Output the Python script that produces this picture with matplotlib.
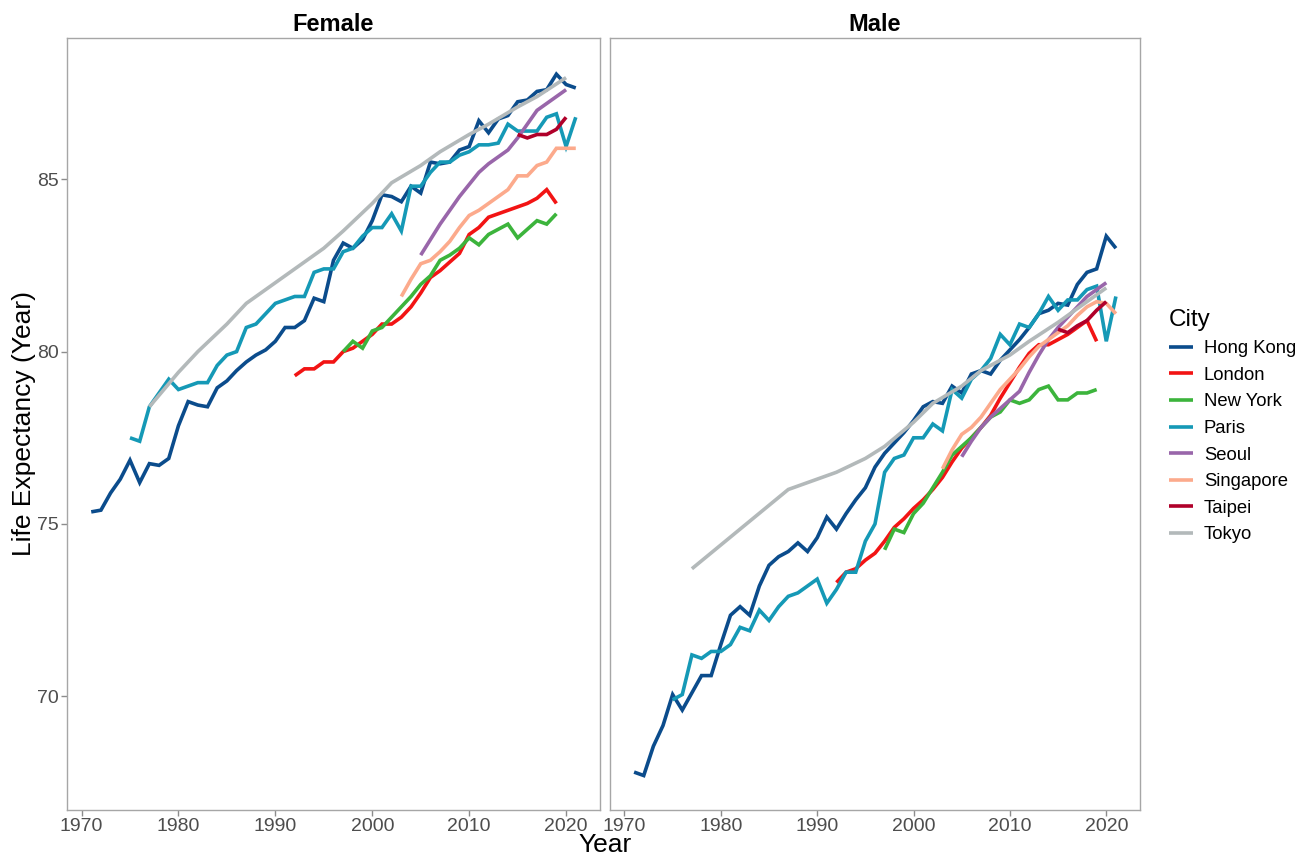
import matplotlib
matplotlib.use("Agg")
import matplotlib.pyplot as plt

plt.rcParams['font.family'] = ['Liberation Sans', 'DejaVu Sans']

# Life expectancy by city, female
hong_kong_female_years = list(range(1971, 2022))
hong_kong_female = [75.35, 75.4, 75.9, 76.3, 76.85, 76.2, 76.75, 76.7, 76.9, 77.85,
                    78.55, 78.45, 78.4, 78.95, 79.15, 79.45, 79.7, 79.9, 80.05, 80.3,
                    80.7, 80.7, 80.9, 81.55, 81.45, 82.65, 83.15, 83.0, 83.25, 83.8,
                    84.55, 84.5, 84.35, 84.8, 84.6, 85.5, 85.45, 85.5, 85.85, 85.95,
                    86.7, 86.35, 86.75, 86.85, 87.25, 87.3, 87.55, 87.6, 88.05, 87.75,
                    87.65]
london_female_years = list(range(1992, 2020))
london_female = [79.3, 79.5, 79.5, 79.7, 79.7, 80.0, 80.1, 80.3, 80.5, 80.8,
                 80.8, 81.0, 81.3, 81.7, 82.15, 82.35, 82.6, 82.85, 83.4, 83.6,
                 83.9, 84.0, 84.1, 84.2, 84.3, 84.45, 84.7, 84.3]
new_york_female_years = list(range(1997, 2020))
new_york_female = [80.0, 80.3, 80.1, 80.6, 80.7, 81.0, 81.3, 81.6, 81.95, 82.2,
                   82.65, 82.8, 83.0, 83.3, 83.1, 83.4, 83.55, 83.7, 83.3, 83.55,
                   83.8, 83.7, 84.0]
paris_female_years = list(range(1975, 2022))
paris_female = [77.5, 77.4, 78.4, 78.8, 79.2, 78.9, 79.0, 79.1, 79.1, 79.6,
                79.9, 80.0, 80.7, 80.8, 81.1, 81.4, 81.5, 81.6, 81.6, 82.3,
                82.4, 82.4, 82.9, 83.0, 83.35, 83.6, 83.6, 84.0, 83.5, 84.8,
                84.8, 85.2, 85.5, 85.5, 85.7, 85.8, 86.0, 86.0, 86.05, 86.6,
                86.4, 86.4, 86.4, 86.8, 86.9, 85.95, 86.8]
seoul_female_years = list(range(2005, 2021))
seoul_female = [82.8, 83.25, 83.7, 84.1, 84.5, 84.85, 85.2, 85.45, 85.65, 85.85,
                86.2, 86.6, 87.0, 87.2, 87.4, 87.6]
singapore_female_years = list(range(2003, 2022))
singapore_female = [81.6, 82.1, 82.55, 82.65, 82.9, 83.2, 83.6, 83.95, 84.1, 84.3,
                    84.5, 84.7, 85.1, 85.1, 85.4, 85.5, 85.9, 85.9, 85.9]
taipei_female_years = list(range(2015, 2021))
taipei_female = [86.3, 86.2, 86.3, 86.3, 86.45, 86.8]
tokyo_female_years = [1977, 1980, 1982, 1985, 1987, 1990, 1992, 1995, 1997, 2000,
                      2002, 2005, 2007, 2010, 2012, 2015, 2017, 2020]
tokyo_female = [78.4, 79.4, 80.0, 80.8, 81.4, 82.0, 82.4, 83.0, 83.5, 84.3,
                84.9, 85.4, 85.8, 86.3, 86.6, 87.1, 87.4, 87.95]

# Life expectancy by city, male
hong_kong_male_years = list(range(1971, 2022))
hong_kong_male = [67.8, 67.7, 68.55, 69.15, 70.05, 69.6, 70.1, 70.6, 70.6, 71.5,
                  72.35, 72.6, 72.35, 73.2, 73.8, 74.05, 74.2, 74.45, 74.2, 74.6,
                  75.2, 74.85, 75.3, 75.7, 76.05, 76.65, 77.05, 77.35, 77.65, 78.0,
                  78.4, 78.55, 78.5, 79.0, 78.8, 79.35, 79.45, 79.35, 79.75, 80.05,
                  80.35, 80.7, 81.1, 81.2, 81.4, 81.35, 81.95, 82.3, 82.4, 83.35,
                  83.0]
london_male_years = list(range(1992, 2020))
london_male = [73.3, 73.6, 73.7, 73.95, 74.15, 74.5, 74.9, 75.15, 75.45, 75.7,
               76.0, 76.35, 76.8, 77.2, 77.5, 77.8, 78.15, 78.65, 79.1, 79.55,
               79.95, 80.2, 80.2, 80.35, 80.5, 80.7, 80.9, 80.3]
new_york_male_years = list(range(1997, 2020))
new_york_male = [74.25, 74.85, 74.75, 75.3, 75.6, 76.05, 76.5, 77.0, 77.25, 77.5,
                 77.8, 78.1, 78.25, 78.6, 78.5, 78.6, 78.9, 79.0, 78.6, 78.6,
                 78.8, 78.8, 78.9]
paris_male_years = list(range(1975, 2022))
paris_male = [69.9, 70.05, 71.2, 71.1, 71.3, 71.3, 71.5, 72.0, 71.9, 72.5,
              72.2, 72.6, 72.9, 73.0, 73.2, 73.4, 72.7, 73.1, 73.6, 73.6,
              74.5, 75.0, 76.5, 76.9, 77.0, 77.5, 77.5, 77.9, 77.7, 78.9,
              78.65, 79.2, 79.45, 79.8, 80.5, 80.2, 80.8, 80.7, 81.1, 81.6,
              81.2, 81.5, 81.5, 81.8, 81.9, 80.3, 81.6]
seoul_male_years = list(range(2005, 2021))
seoul_male = [76.95, 77.4, 77.8, 78.1, 78.35, 78.6, 78.85, 79.4, 79.9, 80.35,
              80.7, 81.0, 81.3, 81.6, 81.8, 82.0]
singapore_male_years = list(range(2003, 2022))
singapore_male = [76.6, 77.15, 77.6, 77.8, 78.1, 78.5, 78.9, 79.2, 79.5, 79.85,
                  80.15, 80.35, 80.55, 80.75, 81.05, 81.3, 81.45, 81.4, 81.1]
taipei_male_years = list(range(2015, 2021))
taipei_male = [80.65, 80.55, 80.75, 80.9, 81.2, 81.45]
tokyo_male_years = [1977, 1987, 1990, 1992, 1995, 1997, 2000, 2002, 2005, 2007,
                    2010, 2012, 2015, 2017, 2020]
tokyo_male = [73.7, 76.0, 76.3, 76.5, 76.9, 77.25, 77.95, 78.5, 79.0, 79.45,
              79.9, 80.3, 80.85, 81.25, 81.85]

cities = ['Hong Kong', 'London', 'New York', 'Paris', 'Seoul', 'Singapore', 'Taipei', 'Tokyo']
city_colors = ['#0b4c8c', '#f21414', '#3cb43c', '#1599b6', '#9966aa', '#fcaa8c', '#b0002a', '#b3b9ba']

female = [(hong_kong_female_years, hong_kong_female), (london_female_years, london_female),
          (new_york_female_years, new_york_female), (paris_female_years, paris_female),
          (seoul_female_years, seoul_female), (singapore_female_years, singapore_female),
          (taipei_female_years, taipei_female), (tokyo_female_years, tokyo_female)]
male = [(hong_kong_male_years, hong_kong_male), (london_male_years, london_male),
        (new_york_male_years, new_york_male), (paris_male_years, paris_male),
        (seoul_male_years, seoul_male), (singapore_male_years, singapore_male),
        (taipei_male_years, taipei_male), (tokyo_male_years, tokyo_male)]

fig = plt.figure(figsize=(13.07, 8.57), dpi=100)

# Two facet panels side by side
ax_f = fig.add_axes([67 / 1307, 1 - 810 / 857, 533 / 1307, 772 / 857])
ax_m = fig.add_axes([610 / 1307, 1 - 810 / 857, 530 / 1307, 772 / 857])

for ax, data, title in [(ax_f, female, 'Female'), (ax_m, male, 'Male')]:
    for city, color, (years, values) in zip(cities, city_colors, data):
        ax.plot(years, values, color=color, linewidth=2.6, label=city,
                solid_joinstyle='miter', solid_capstyle='butt')
    ax.set_xlim(1968.5, 2023.5)
    ax.set_ylim(66.7, 89.1)
    ax.set_xticks([1970, 1980, 1990, 2000, 2010, 2020])
    ax.set_yticks([70, 75, 80, 85])
    ax.set_title(title, fontsize=17, fontweight='bold', pad=5)
    for spine in ax.spines.values():
        spine.set_color('#a6a6a6')
        spine.set_linewidth(1.0)
    ax.tick_params(colors='#8c8c8c', labelcolor='#4d4d4d', labelsize=14,
                   length=4, width=1.0, pad=2)

# Male panel shares the y axis, so no labels there
ax_m.tick_params(axis='y', left=False, labelleft=False)

# Axis titles
fig.text(605 / 1307, 1 - 845 / 857, 'Year', ha='center', va='center', fontsize=19)
fig.text(24 / 1307, 1 - 424 / 857, 'Life Expectancy (Year)', ha='center', va='center',
         rotation=90, fontsize=19)

# Legend on the right
handles, labels = ax_f.get_legend_handles_labels()
fig.legend(handles, labels, title='City', loc='upper left',
           bbox_to_anchor=(1152 / 1307, 1 - 292 / 857), frameon=False,
           fontsize=13.3, title_fontsize=17.5, handlelength=1.3,
           handletextpad=0.6, labelspacing=0.52, alignment='left')

plt.savefig('out.png', dpi=100)
